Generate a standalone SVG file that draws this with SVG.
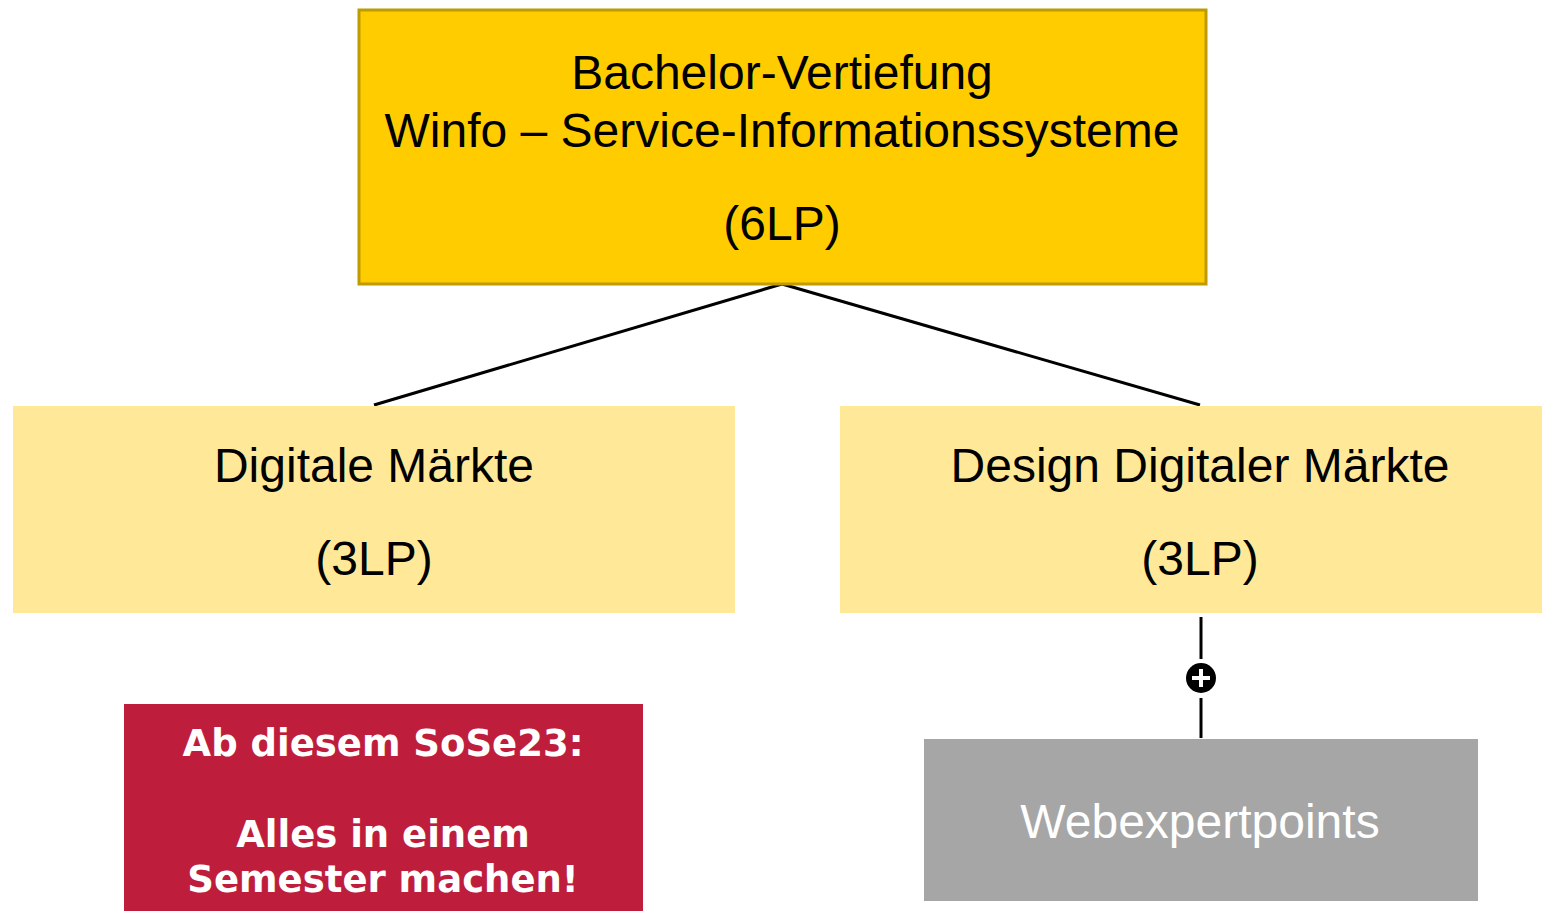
<svg xmlns="http://www.w3.org/2000/svg" width="1542" height="911" viewBox="0 0 1542 911">
<style>
.t{font-family:"Liberation Sans",Arial,sans-serif;font-size:48px;fill:#000;text-anchor:middle}
.w{font-family:"DejaVu Sans",Verdana,sans-serif;font-weight:bold;font-size:37px;fill:#fff;text-anchor:middle}
.c{stroke:#000;stroke-width:3;fill:none}
</style>
<rect width="1542" height="911" fill="#fff"/>
<g id="connectors">
<line class="c" x1="782" y1="284" x2="374" y2="405"/>
<line class="c" x1="782" y1="284" x2="1200" y2="405"/>
<line class="c" x1="1201" y1="617" x2="1201" y2="659"/>
<line class="c" x1="1201" y1="698" x2="1201" y2="738"/>
<circle cx="1201" cy="678" r="15" fill="#000"/>
<path d="M1192 678H1210M1201 669V687" stroke="#fff" stroke-width="4"/>
</g>
<g id="top">
<rect x="359" y="10" width="847" height="274" fill="#FFCC00" stroke="#BF9B00" stroke-width="3"/>
<text class="t" x="782" y="89">Bachelor-Vertiefung</text>
<text class="t" x="782" y="147">Winfo – Service-Informationssysteme</text>
<text class="t" x="782" y="240">(6LP)</text>
</g>
<g id="digitale">
<rect x="13" y="406" width="722" height="207" fill="#FFE999"/>
<text class="t" x="374" y="482">Digitale Märkte</text>
<text class="t" x="374" y="575">(3LP)</text>
</g>
<g id="design">
<rect x="840" y="406" width="702" height="207" fill="#FFE999"/>
<text class="t" x="1200" y="482">Design Digitaler Märkte</text>
<text class="t" x="1200" y="575">(3LP)</text>
</g>
<g id="webexpert">
<rect x="924" y="739" width="554" height="162" fill="#A6A6A6"/>
<text class="t" x="1200" y="838" style="fill:#fff">Webexpertpoints</text>
</g>
<g id="note">
<rect x="124" y="704" width="519" height="207" fill="#BE1E3C"/>
<text class="w" x="383" y="756">Ab diesem SoSe23:</text>
<text class="w" x="383" y="847">Alles in einem</text>
<text class="w" x="383" y="892">Semester machen!</text>
</g>
</svg>
